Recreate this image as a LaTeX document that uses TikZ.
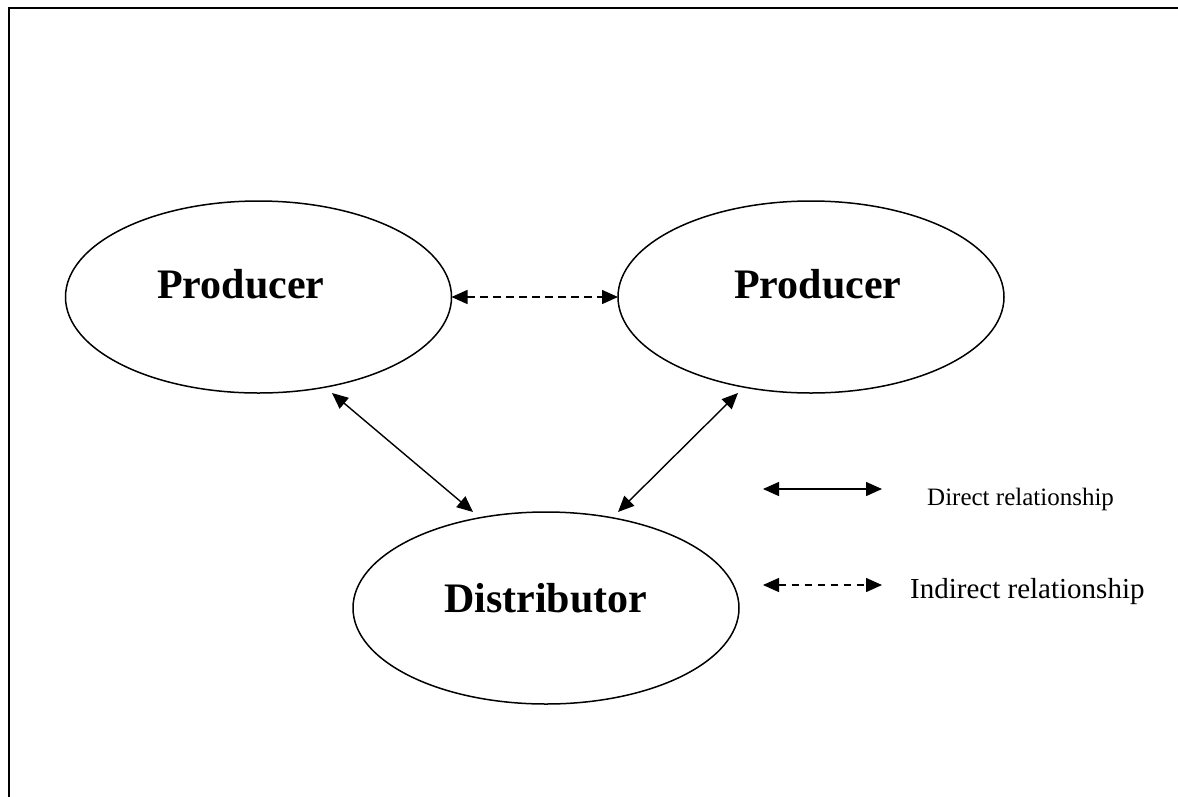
\documentclass[tikz,border=0pt]{standalone}
\usepackage{fontspec}
\setmainfont{Liberation Serif}
\usetikzlibrary{shapes.geometric,arrows.meta,calc}
\tikzset{
  entity/.style={draw, ellipse, line width=1.5pt, minimum width=386pt, minimum height=192pt, inner sep=0pt, outer sep=0pt},
  bigtext/.style={anchor=base west, inner sep=0pt, font=\fontsize{42}{50}\selectfont\bfseries},
  rel/.style={line width=1.4pt, {Triangle[length=16pt,width=14pt]}-{Triangle[length=16pt,width=14pt]}},
  indrel/.style={rel, dash pattern=on 8pt off 5pt},
  legtext/.style={anchor=base west, inner sep=0pt},
  frameline/.style={line width=2.6pt}
}
\begin{document}
\begin{tikzpicture}[x=1pt,y=-1pt]
\useasboundingbox (0,0) rectangle (1178,796);
\clip (0,0) rectangle (1178,796);
\fill[white] (0,0) rectangle (1178,796);
% frame
\coordinate (fb) at (9,800);
\coordinate (ftl) at (9,8);
\coordinate (ftr) at (1185,8);
\draw[frameline] (fb) -- (ftl) -- (ftr);
% ellipses
\node[entity] (p1) at (258.5,297) {};
\node[entity] (p2) at (811,297) {};
\node[entity] (d) at (546,608) {};
% labels
\node[bigtext] (t1) at (157,298) {Producer};
\node[bigtext] (t2) at (734,298) {Producer};
\node[bigtext] (t3) at (444,612) {Distributor};
% connectors
\draw[indrel] (p1.east) -- (p2.west);
\coordinate (a1) at ($(p1.center)+(73.5,96)$);
\coordinate (a2) at ($(d.center)+(-73,-96)$);
\coordinate (b1) at ($(p2.center)+(-73,96)$);
\coordinate (b2) at ($(d.center)+(72,-96)$);
\draw[rel] (a1) -- (a2);
\draw[rel] (b1) -- (b2);
% legend
\coordinate (l1a) at (763,489);
\coordinate (l1b) at (882,489);
\coordinate (l2a) at (763,585);
\coordinate (l2b) at (882,585);
\draw[rel] (l1a) -- (l1b);
\draw[rel, dash pattern=on 7pt off 6pt] (l2a) -- (l2b);
\node[legtext, font=\fontsize{25}{30}\selectfont] (lt1) at (927,505) {Direct relationship};
\node[legtext, font=\fontsize{29}{35}\selectfont] (lt2) at (910,598) {Indirect relationship};
\end{tikzpicture}
\end{document}
